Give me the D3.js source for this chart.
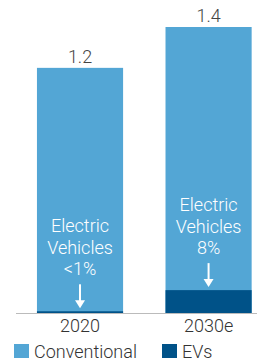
<!DOCTYPE html>
<html><head><meta charset="utf-8">
<script src="https://cdn.jsdelivr.net/npm/d3@7"></script>
<style>html,body{margin:0;padding:0;background:#fff;}svg{display:block;font-family:Roboto,"Noto Sans",sans-serif;}</style>
</head><body><div id="c"></div>
<script>
const categories = ["2020", "2030e"];
const totals = [1.2, 1.4];
const evShare = [0.007, 0.08];
const totalLabels = ["1.2", "1.4"];
const evTexts = [["Electric", "Vehicles", "<1%"], ["Electric", "Vehicles", "8%"]];
const seriesNames = ["Conventional", "EVs"];
const colors = ["#53a6d5", "#005288"];

const W = 257, H = 362, FS = 18;
const svg = d3.select("#c").append("svg").attr("width", W).attr("height", H);
const x = d3.scaleBand().domain(categories).range([16, 272.6]).paddingInner(0.33).paddingOuter(0.163);
const y = d3.scaleLinear().domain([0, 1.4]).range([313, 27]);

const data = categories.map((c, i) => ({c, total: totals[i], ev: totals[i] * evShare[i], conv: totals[i] * (1 - evShare[i]), label: totalLabels[i], txt: evTexts[i]}));

svg.selectAll("rect.conv").data(data).join("rect").attr("class", "conv")
  .attr("x", d => x(d.c)).attr("width", x.bandwidth())
  .attr("y", d => y(d.total)).attr("height", d => y(0) - y(d.total))
  .attr("fill", colors[0]);
svg.selectAll("rect.ev").data(data).join("rect").attr("class", "ev")
  .attr("x", d => x(d.c)).attr("width", x.bandwidth())
  .attr("y", d => y(d.ev)).attr("height", d => Math.max(1.5, y(0) - y(d.ev)))
  .attr("fill", colors[1]);

svg.append("line").attr("x1", 16).attr("x2", W).attr("y1", y(0) + 0.5).attr("y2", y(0) + 0.5)
  .attr("stroke", "#bbbbbb").attr("stroke-width", 1);

svg.selectAll("text.tot").data(data).join("text").attr("class", "tot")
  .attr("x", d => x(d.c) + x.bandwidth() / 2).attr("y", d => y(d.total) - 5)
  .attr("text-anchor", "middle").attr("font-size", FS).attr("font-weight", 300).attr("fill", "#444")
  .text(d => d.label);

data.forEach(d => {
  const cx = x(d.c) + x.bandwidth() / 2;
  const top = Math.min(y(d.ev), y(0) - 1.5);
  const arrowEnd = top - 3;
  const arrowStart = arrowEnd - 24;
  const g = svg.append("g");
  d.txt.forEach((t, k) => {
    g.append("text").attr("x", cx).attr("y", arrowStart - 9 - (2 - k) * 21.5)
      .attr("text-anchor", "middle").attr("font-size", FS).attr("font-weight", 300).attr("fill", "#fff").text(t);
  });
  g.append("line").attr("x1", cx).attr("x2", cx).attr("y1", arrowStart).attr("y2", arrowEnd - 6)
    .attr("stroke", "#fff").attr("stroke-width", 2);
  g.append("path").attr("d", `M${cx - 5},${arrowEnd - 8}L${cx + 5},${arrowEnd - 8}L${cx},${arrowEnd}Z`).attr("fill", "#fff");
});

svg.selectAll("text.cat").data(data).join("text").attr("class", "cat")
  .attr("x", d => x(d.c) + x.bandwidth() / 2).attr("y", y(0) + 19)
  .attr("text-anchor", "middle").attr("font-size", FS).attr("font-weight", 300).attr("fill", "#333")
  .text(d => d.c);

const legX = [14, 162];
seriesNames.forEach((s, i) => {
  svg.append("rect").attr("x", legX[i]).attr("y", 344).attr("width", 15).attr("height", 14).attr("fill", colors[i]);
  svg.append("text").attr("x", legX[i] + 20).attr("y", 358).attr("font-size", FS).attr("font-weight", 300)
    .attr("fill", "#333").text(s);
});
</script></body></html>
